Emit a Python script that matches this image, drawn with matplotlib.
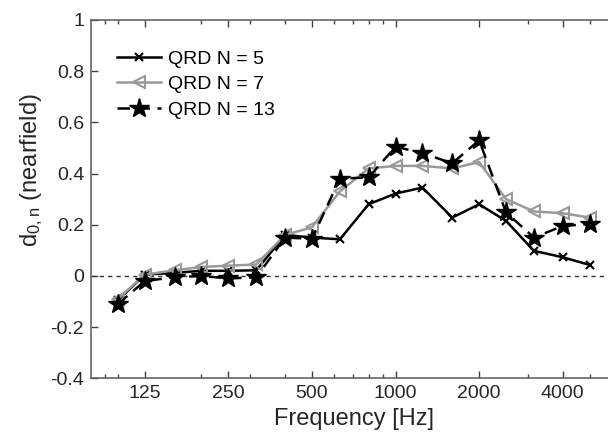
import numpy as np
import matplotlib
matplotlib.use('Agg')
import matplotlib.pyplot as plt
from matplotlib.ticker import FixedLocator, NullFormatter

plt.rcParams['font.family'] = ['Liberation Sans', 'DejaVu Sans']
plt.rcParams['mathtext.default'] = 'regular'

freq = [100, 125, 160, 200, 250, 315, 400, 500, 630, 800, 1000, 1250,
        1600, 2000, 2500, 3150, 4000, 5000]
qrd5 = [-0.095, 0.005, 0.012, 0.02, 0.02, 0.022, 0.16, 0.15, 0.143, 0.28,
        0.322, 0.345, 0.228, 0.28, 0.215, 0.098, 0.073, 0.043]
qrd7 = [-0.09, 0.005, 0.022, 0.035, 0.04, 0.045, 0.16, 0.19, 0.33, 0.42,
        0.43, 0.43, 0.42, 0.445, 0.30, 0.252, 0.245, 0.228]
qrd13 = [-0.11, -0.02, -0.005, 0.0, -0.01, -0.005, 0.15, 0.145, 0.38, 0.385,
         0.505, 0.48, 0.44, 0.53, 0.248, 0.15, 0.195, 0.203]

xticks = [125, 250, 500, 1000, 2000, 4000]
yticks = [-0.4, -0.2, 0, 0.2, 0.4, 0.6, 0.8, 1]
yticklabels = ['-0.4', '-0.2', '0', '0.2', '0.4', '0.6', '0.8', '1']

fig = plt.figure(figsize=(6.08, 4.4), dpi=100)
ax = fig.add_axes([91 / 608, 61.7 / 440, 526.5 / 608, 358.3 / 440])

ax.axhline(0, color='0.2', linestyle=(0, (3, 3)), linewidth=1, zorder=1)
ax.plot(freq, qrd5, color='k', linewidth=1.8, marker='x', markersize=6,
        markeredgewidth=1.5, label='QRD N = 5', zorder=3)
ax.plot(freq, qrd7, color='0.6', linewidth=1.8, marker='<', markersize=9,
        markerfacecolor='none', markeredgewidth=1.5, label='QRD N = 7', zorder=3)
ax.plot(freq, qrd13, color='k', linewidth=1.8, linestyle=(0, (5, 3)),
        marker='*', markersize=15, label='QRD N = 13', zorder=4)

ax.set_xscale('log')
ax.set_xlim(80, 6300)
ax.set_ylim(-0.4, 1)
ax.xaxis.set_major_locator(FixedLocator(xticks))
ax.set_xticklabels([str(t) for t in xticks])
ax.xaxis.set_minor_locator(FixedLocator([90, 100, 200, 300, 400, 600, 700,
                                         800, 900, 3000, 5000, 6000]))
ax.xaxis.set_minor_formatter(NullFormatter())
ax.set_yticks(yticks)
ax.set_yticklabels(yticklabels)

ax.tick_params(which='both', direction='in', top=True, right=True,
               colors='0.25', labelcolor='0.15', labelsize=14, width=1)
ax.tick_params(which='major', length=5, pad=5)
ax.tick_params(which='minor', length=3)
for s in ax.spines.values():
    s.set_color('0.4')
    s.set_linewidth(1.2)

ax.set_xlabel('Frequency [Hz]', fontsize=17, color='0.15')
ax.set_ylabel('d$_{0,n}$ (nearfield)', fontsize=17, color='0.15')
ax.yaxis.label.set_y(0.58)

ax.legend(loc='upper left', bbox_to_anchor=(0.049, 0.916), frameon=False,
          fontsize=14, handlelength=2.27, borderpad=0, borderaxespad=0,
          labelspacing=0.41, handletextpad=0.36)

fig.savefig('out.png', dpi=100)
